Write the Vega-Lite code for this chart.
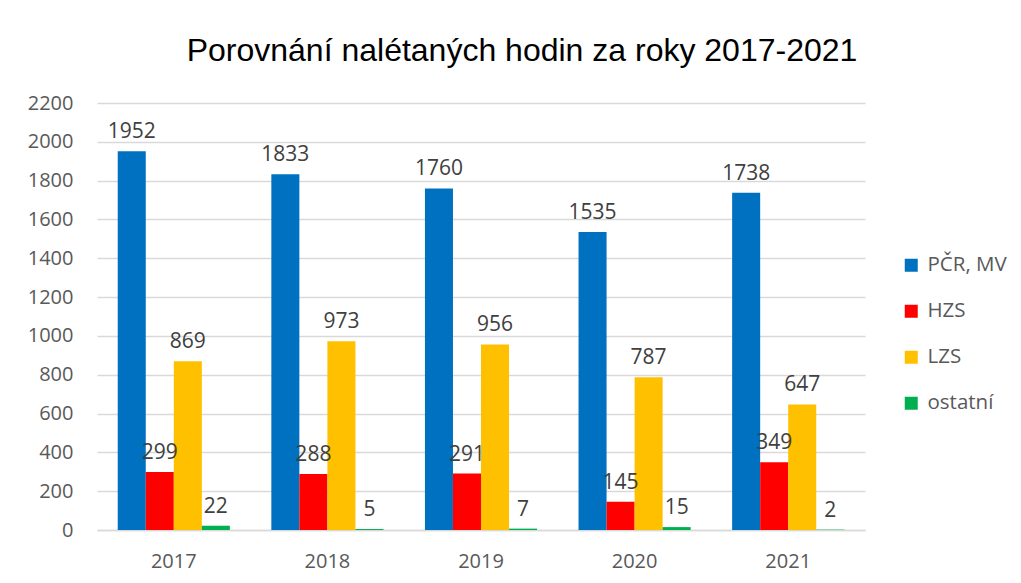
{
  "$schema": "https://vega.github.io/schema/vega-lite/v6.json",
  "width": 768,
  "height": 427,
  "autosize": {"type": "none"},
  "padding": {"left": 97, "top": 103, "right": 156, "bottom": 53},
  "background": "white",
  "config": {"view": {"stroke": null}},
  "title": {
    "text": "Porovnání nalétaných hodin za roky 2017-2021",
    "font": "Liberation Sans",
    "fontSize": 32,
    "fontWeight": "normal",
    "color": "#000000",
    "anchor": "middle",
    "frame": "group",
    "dx": 41,
    "offset": 25
  },
  "data": {
    "values": [
      {"rok": "2017", "skupina": "PČR, MV", "hodiny": 1952},
      {"rok": "2017", "skupina": "HZS", "hodiny": 299},
      {"rok": "2017", "skupina": "LZS", "hodiny": 869},
      {"rok": "2017", "skupina": "ostatní", "hodiny": 22},
      {"rok": "2018", "skupina": "PČR, MV", "hodiny": 1833},
      {"rok": "2018", "skupina": "HZS", "hodiny": 288},
      {"rok": "2018", "skupina": "LZS", "hodiny": 973},
      {"rok": "2018", "skupina": "ostatní", "hodiny": 5},
      {"rok": "2019", "skupina": "PČR, MV", "hodiny": 1760},
      {"rok": "2019", "skupina": "HZS", "hodiny": 291},
      {"rok": "2019", "skupina": "LZS", "hodiny": 956},
      {"rok": "2019", "skupina": "ostatní", "hodiny": 7},
      {"rok": "2020", "skupina": "PČR, MV", "hodiny": 1535},
      {"rok": "2020", "skupina": "HZS", "hodiny": 145},
      {"rok": "2020", "skupina": "LZS", "hodiny": 787},
      {"rok": "2020", "skupina": "ostatní", "hodiny": 15},
      {"rok": "2021", "skupina": "PČR, MV", "hodiny": 1738},
      {"rok": "2021", "skupina": "HZS", "hodiny": 349},
      {"rok": "2021", "skupina": "LZS", "hodiny": 647},
      {"rok": "2021", "skupina": "ostatní", "hodiny": 2}
    ]
  },
  "encoding": {
    "x": {
      "field": "rok",
      "type": "nominal",
      "scale": {"paddingInner": 0.27, "paddingOuter": 0.135},
      "axis": {
        "title": null,
        "labelAngle": 0,
        "labelFont": "Open Sans",
        "labelFontSize": 20,
        "labelColor": "#595959",
        "labelPadding": 21,
        "ticks": false,
        "domainColor": "#D9D9D9",
        "domainWidth": 1.5
      }
    },
    "xOffset": {
      "field": "skupina",
      "type": "nominal",
      "sort": ["PČR, MV", "HZS", "LZS", "ostatní"],
      "scale": {"paddingInner": 0, "paddingOuter": 0}
    },
    "y": {
      "field": "hodiny",
      "type": "quantitative",
      "scale": {"domain": [0, 2200], "nice": false},
      "axis": {
        "title": null,
        "format": "d",
        "values": [0, 200, 400, 600, 800, 1000, 1200, 1400, 1600, 1800, 2000, 2200],
        "labelFont": "Open Sans",
        "labelFontSize": 20,
        "labelColor": "#595959",
        "labelPadding": 24,
        "ticks": false,
        "domain": false,
        "gridColor": "#D9D9D9",
        "gridWidth": 1.5
      }
    }
  },
  "layer": [
    {
      "mark": {"type": "bar"},
      "encoding": {
        "color": {
          "field": "skupina",
          "type": "nominal",
          "sort": ["PČR, MV", "HZS", "LZS", "ostatní"],
          "scale": {
            "domain": ["PČR, MV", "HZS", "LZS", "ostatní"],
            "range": ["#0070C0", "#FF0000", "#FFC000", "#00B050"]
          },
          "legend": {
            "title": null,
            "orient": "none",
            "legendX": 804,
            "legendY": 152,
            "symbolType": "square",
            "symbolSize": 169,
            "symbolStrokeWidth": 0,
            "labelFont": "Open Sans",
            "labelFontSize": 20.5,
            "labelColor": "#595959",
            "labelOffset": 6,
            "rowPadding": 25
          }
        }
      }
    },
    {
      "mark": {
        "type": "text",
        "baseline": "alphabetic",
        "dy": -13,
        "font": "Open Sans",
        "fontSize": 21,
        "color": "#404040"
      },
      "encoding": {
        "text": {"field": "hodiny", "type": "quantitative"}
      }
    }
  ]
}
